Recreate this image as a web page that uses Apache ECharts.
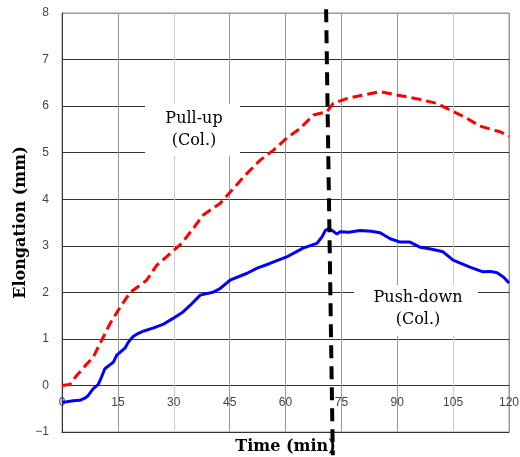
<!DOCTYPE html>
<html>
<head>
<meta charset="utf-8">
<title>Elongation</title>
<script src="https://cdn.jsdelivr.net/npm/echarts@6/dist/echarts.min.js"></script>
<style>
  html, body { margin: 0; padding: 0; background: #fff; }
  #chart { width: 520px; height: 457px; }
</style>
</head>
<body>
<div id="chart"></div>
<script>
// 数据
var pullUpTime = [0, 2.1, 3.9, 6.2, 8.4, 10.2, 12.9, 15.6, 18.3, 20.9, 22.7, 25.4, 29, 32.1, 35.2, 37.9, 42.4, 46, 49.6, 53.2, 56.7, 60.3, 63.9, 67.5, 71.1, 72.8, 76.4, 80.9, 85.4, 89.9, 95.2, 100.6, 105.1, 108.7, 112.2, 117.6, 120];
var pullUpElong = [0, 0.02, 0.21, 0.42, 0.61, 0.9, 1.33, 1.68, 2.0, 2.15, 2.26, 2.58, 2.83, 3.05, 3.37, 3.66, 3.91, 4.23, 4.55, 4.84, 5.05, 5.31, 5.52, 5.81, 5.88, 6.06, 6.16, 6.24, 6.31, 6.24, 6.16, 6.06, 5.88, 5.74, 5.57, 5.45, 5.35];

var pushDownTime = [0, 1.3, 3, 4.8, 6, 7, 8.4, 9.7, 10.6, 11.5, 13.8, 14.7, 16.9, 17.8, 19.1, 20.5, 22, 24.4, 27.1, 29.8, 32.5, 34.9, 37.1, 40.5, 42.4, 45.1, 49.7, 52.4, 55.8, 60.3, 64.7, 68.4, 69.8, 70.7, 71.7, 72.5, 73.8, 74.6, 77, 80, 83, 85.4, 88.1, 90.8, 93.4, 96.1, 99, 102.3, 105, 109.5, 111, 113, 115, 116.8, 118.5, 120];
var pushDownElong = [-0.36, -0.35, -0.33, -0.32, -0.28, -0.22, -0.07, 0.02, 0.18, 0.36, 0.5, 0.65, 0.8, 0.93, 1.05, 1.12, 1.17, 1.23, 1.31, 1.44, 1.58, 1.76, 1.94, 2.0, 2.08, 2.26, 2.41, 2.52, 2.62, 2.76, 2.95, 3.05, 3.19, 3.33, 3.37, 3.33, 3.25, 3.3, 3.29, 3.33, 3.31, 3.28, 3.15, 3.08, 3.08, 2.97, 2.93, 2.87, 2.69, 2.54, 2.5, 2.44, 2.45, 2.42, 2.33, 2.2];

// vertical dashed marker
var markerTime = [70.9, 72.7];
var markerElong = [8.08, -1.5];

var xMin = 0, xMax = 120, xStep = 15;
var yMin = -1, yMax = 8, yStep = 1;

function pairs(xs, ys) {
  return xs.map(function (x, i) {
    return [x, ys[i]];
  });
}

var chart = echarts.init(document.getElementById("chart"));
chart.setOption({
  animation: false,
  backgroundColor: "#fff",
  grid: {
    left: 62,
    right: 11,
    top: 13,
    bottom: 25,
    containLabel: false,
    outerBoundsMode: "none",
    show: true,
    borderColor: "#999",
    borderWidth: 1
  },
  xAxis: {
    type: "value",
    min: xMin,
    max: xMax,
    interval: xStep,
    axisLine: { onZero: false, lineStyle: { color: "#333", width: 1 } },
    axisTick: { show: false },
    // labels sit just under the zero line, like the original
    axisLabel: {
      margin: -35,
      color: "#444",
      fontSize: 12,
      fontFamily: "Liberation Sans"
    },
    splitLine: {
      show: true,
      lineStyle: {
        color: ["#333", "#999", "#ccc", "#999", "#999", "#999", "#999", "#ccc", "#999"],
        width: 1
      }
    },
    name: "Time (min)",
    nameLocation: "middle",
    nameGap: 7,
    nameMoveOverlap: false,
    nameTextStyle: {
      fontFamily: "DejaVu Serif",
      fontWeight: "bold",
      fontSize: 16,
      color: "#000"
    }
  },
  yAxis: {
    type: "value",
    min: yMin,
    max: yMax,
    interval: yStep,
    axisLine: { show: true, onZero: false, lineStyle: { color: "#333", width: 1 } },
    axisTick: { show: false },
    axisLabel: {
      margin: 13,
      color: "#444",
      fontSize: 12,
      fontFamily: "Liberation Sans",
      formatter: function (v) {
        return v < 0 ? "\u2212" + Math.abs(v) : String(v);
      }
    },
    splitLine: {
      show: true,
      lineStyle: {
        color: ["#333", "#333", "#333", "#333", "#333", "#333", "#333", "#333", "#333", "#999"],
        width: 1
      }
    },
    name: "Elongation (mm)",
    nameLocation: "middle",
    nameGap: 33,
    nameMoveOverlap: false,
    nameTextStyle: {
      fontFamily: "DejaVu Serif",
      fontWeight: "bold",
      fontSize: 16,
      color: "#000"
    }
  },
  graphic: [
    {
      type: "rect",
      z: 10,
      shape: { x: 145, y: 104, width: 95, height: 52 },
      style: { fill: "#fff" }
    },
    {
      type: "text",
      z: 11,
      x: 194,
      y: 130,
      style: {
        text: "Pull-up\n(Col.)",
        fontFamily: "DejaVu Serif",
        fontSize: 16,
        lineHeight: 22,
        fill: "#000",
        align: "center",
        verticalAlign: "middle"
      }
    },
    {
      type: "rect",
      z: 10,
      shape: { x: 354, y: 285, width: 124, height: 51 },
      style: { fill: "#fff" }
    },
    {
      type: "text",
      z: 11,
      x: 418,
      y: 309,
      style: {
        text: "Push-down\n(Col.)",
        fontFamily: "DejaVu Serif",
        fontSize: 16,
        lineHeight: 22,
        fill: "#000",
        align: "center",
        verticalAlign: "middle"
      }
    }
  ],
  series: [
    {
      name: "Pull-up",
      type: "line",
      data: pairs(pullUpTime, pullUpElong),
      symbol: "none",
      smooth: false,
      lineStyle: { color: "#ff0000", width: 3, type: [10, 5] },
      z: 3
    },
    {
      name: "Push-down",
      type: "line",
      data: pairs(pushDownTime, pushDownElong),
      symbol: "none",
      lineStyle: { color: "#0000ff", width: 3 },
      z: 4
    },
    {
      name: "marker",
      type: "line",
      data: pairs(markerTime, markerElong),
      symbol: "none",
      clip: false,
      lineStyle: { color: "#000", width: 4, type: [13, 8] },
      z: 5
    }
  ]
});
</script>
</body>
</html>
